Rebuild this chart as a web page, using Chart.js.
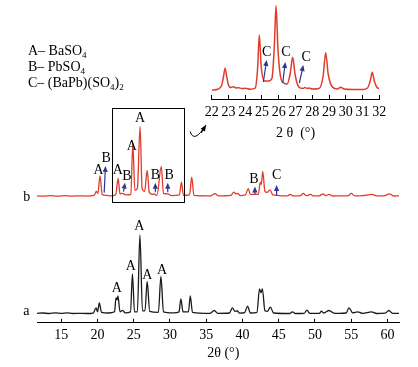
<!DOCTYPE html>
<html>
<head>
<meta charset="utf-8">
<script src="https://cdn.jsdelivr.net/npm/chart.js@4.4.1/dist/chart.umd.min.js"></script>
<style>
body { margin: 0; background: #fff; }
#wrap { position: relative; width: 418px; height: 367px; }
#main { position: absolute; left: 0; top: 0; }
#inset { position: absolute; left: 190px; top: 0; }
</style>
</head>
<body>
<div id="wrap">
<canvas id="main" width="418" height="367"></canvas>
<canvas id="inset" width="218" height="145"></canvas>
</div>
<script>
const FONT = '"Liberation Serif", "Times New Roman", serif';
const RED = '#e23b2a';
const BLUE = '#2a3795';

// pattern a (black), intensity above its own baseline
const angleA = [11.65, 12.5, 13.3, 14.2, 15.0, 15.8, 16.6, 17.5, 18.5, 19.4, 19.8, 20.0, 20.25, 20.55, 21.5,
  22.35, 22.55, 22.7, 22.82, 23.1, 23.5, 23.8, 24.55, 24.82, 25.1, 25.5, 25.85, 26.2, 26.55, 26.85, 27.2,
  28.4, 28.75, 29.1, 30.5, 31.25, 31.5, 31.8, 32.55, 32.8, 33.1, 35.5, 36.1, 36.6, 38.2, 38.6, 38.95, 39.3,
  39.6, 40.3, 40.7, 41.1, 42.0, 42.35, 42.55, 42.75, 43.1, 43.45, 43.85, 44.3, 46.5, 46.9, 47.3, 48.5, 48.9,
  49.3, 50.6, 50.9, 51.2, 51.95, 52.6, 53.3, 54.3, 54.7, 55.2, 55.9, 56.6, 57.8, 58.5, 59.7, 60.2, 60.7, 61.6];
const intA = [0.5, 0.8, 0.3, 0.9, 0.4, 0.9, 0.3, 0.5, 0.3, 0.8, 6, 2, 11, 1.5, 0.8,
  2, 16, 14, 18, 2, 3.5, 1, 2, 40, 2, 2, 79, 3, 3, 32.5, 2.5,
  1.5, 37.5, 2, 1, 2, 15, 2, 2, 18, 1.5, 0.5, 3.3, 0.5, 0.8, 6, 2.5, 2.8,
  0.7, 1.2, 7.6, 0.8, 1.5, 25, 21, 25, 3, 2.5, 6.6, 0.8, 0.3, 2, 0.3, 0.5, 3.6,
  0.4, 0.5, 2.6, 0.8, 3.3, 0.6, 0.4, 0.8, 6, 1, 2, 0.4, 2, 0.3, 0.6, 3.3, 0.5, 0.4];

// pattern b (red)
const angleB = [11.65, 12.6, 13.5, 14.5, 15.5, 16.5, 17.5, 18.5, 19.5, 19.85, 20.05, 20.35, 20.65, 21.2, 21.8,
  22.5, 22.85, 23.1, 23.35, 23.6, 24.0, 24.6, 24.87, 25.15, 25.5, 25.87, 26.15, 26.5, 26.85, 27.15, 27.6,
  27.8, 28.2, 28.8, 29.1, 29.7, 30.2, 31.3, 31.58, 31.85, 32.7, 33.0, 33.3, 35.6, 36.2, 36.7, 38.4, 38.8,
  39.1, 39.3, 39.7, 40.4, 40.8, 41.1, 41.8, 42.2, 42.45, 42.6, 42.8, 43.1, 43.4, 43.8, 44.2, 44.8, 45.5,
  46.2, 46.6, 47.0, 48.0, 48.4, 48.8, 49.4, 49.8, 50.6, 51.1, 51.5, 51.95, 52.5, 53.5, 54.6, 55.0, 55.5,
  56.5, 57.9, 58.5, 59.5, 60.3, 60.9, 61.6];
const intB = [0.5, 0.2, 0.8, 0.3, 0.7, 0.3, 0.6, 0.3, 1, 5, 3, 20.5, 2, 1, 0.5,
  1.5, 18, 2.5, 3, 2.5, 1.5, 2, 52.7, 6, 8, 70, 8, 5, 26, 4, 2,
  2.5, 1, 30, 3, 2.5, 0.8, 1.5, 14.3, 1, 1.5, 19.3, 1, 0.5, 2.7, 0.5, 1, 4.3,
  2.5, 3, 0.8, 1.5, 7.7, 2, 2, 2, 14, 12, 25, 5, 4, 6.5, 1.5, 1, 0.5,
  0.6, 2, 0.5, 0.8, 3, 0.7, 2, 0.5, 0.6, 2.5, 0.7, 2, 0.4, 0.6, 0.8, 3, 0.6,
  0.8, 2, 0.5, 0.6, 2.5, 0.4, 0.5];

// pattern b, 22-32 enlarged
const angleIn = [22.0, 22.4, 22.6, 22.7, 22.8, 22.9, 23.0, 23.15, 23.3, 23.45, 23.6, 23.8, 24.0, 24.3, 24.6,
  24.74, 24.84, 24.95, 25.15, 25.4, 25.6, 25.74, 25.84, 25.95, 26.1, 26.3, 26.5, 26.68, 26.83, 26.98, 27.2,
  27.45, 27.57, 27.7, 27.8, 28.0, 28.4, 28.65, 28.8, 28.95, 29.2, 29.5, 29.7, 29.9, 30.4, 31.0, 31.3, 31.47,
  31.58, 31.7, 31.9, 32.0];
const intIn = [0, 1, 5, 13, 21.7, 13, 5, 2.5, 3.3, 2, 2.3, 1.5, 1.7, 0.7, 2,
  22, 55, 24, 9, 9, 12, 45, 84.3, 42, 14, 7, 6, 16, 32.7, 15, 3,
  1.5, 2.5, 1.5, 2, 1, 1.5, 14, 37.3, 16, 3, 1, 2.7, 1, 0.5, 0.6, 2, 10,
  17.7, 9, 2, 1.7];

const mainTicks = [15, 20, 25, 30, 35, 40, 45, 50, 55, 60];
const insetTicks = [22, 23, 24, 25, 26, 27, 28, 29, 30, 31, 32];

const baseA = 9, baseB = 126.5, baseIn = 9;

// phase marks: [text, angle, height]
const labelsA = [['A', 22.67, 34.7], ['A', 24.6, 56.3], ['A', 25.78, 97], ['A', 26.88, 48], ['A', 28.9, 53]];
const labelsB = [['A', 20.13, 153], ['B', 21.2, 164.7], ['A', 22.81, 153], ['B', 24.05, 147], ['A', 24.74, 177],
  ['A', 25.88, 204.7], ['B', 27.98, 148], ['B', 29.87, 148], ['B', 41.58, 144], ['C', 44.71, 148]];
const arrowsB = [[20.92, 130.3, 21.1, 157], [23.58, 131.3, 23.81, 140.3], [27.98, 130.7, 27.98, 140.3],
  [29.69, 130.7, 29.69, 140.3], [41.72, 128.7, 41.72, 136.3], [44.71, 127.3, 44.71, 138]];
const labelsIn = [['C', 25.28, 47], ['C', 26.43, 47], ['C', 27.63, 42]];
const arrowsIn = [[25.08, 17, 25.28, 39], [26.24, 16, 26.39, 37], [27.23, 16, 27.47, 34]];
const boxX = [22, 32], boxY = [121, 215];

const legendLines = [
  [['A– BaSO', 0], ['4', 1]],
  [['B– PbSO', 0], ['4', 1]],
  [['C– (BaPb)(SO', 0], ['4', 1], [')', 0], ['2', 1]]
];

function pts(xs, ys, off) {
  return xs.map((v, i) => ({ x: v, y: ys[i] + off }));
}

function arrow(ctx, x1, y1, x2, y2, color) {
  const a = Math.atan2(y2 - y1, x2 - x1);
  ctx.strokeStyle = color; ctx.fillStyle = color; ctx.lineWidth = 1.2;
  ctx.beginPath(); ctx.moveTo(x1, y1); ctx.lineTo(x2 - 3 * Math.cos(a), y2 - 3 * Math.sin(a)); ctx.stroke();
  ctx.beginPath();
  ctx.moveTo(x2, y2);
  ctx.lineTo(x2 - 6 * Math.cos(a) + 2.6 * Math.sin(a), y2 - 6 * Math.sin(a) - 2.6 * Math.cos(a));
  ctx.lineTo(x2 - 6 * Math.cos(a) - 2.6 * Math.sin(a), y2 - 6 * Math.sin(a) + 2.6 * Math.cos(a));
  ctx.closePath(); ctx.fill();
}

function marks(ctx, sx, sy, labels, arrows) {
  arrows.forEach(a => arrow(ctx, sx.getPixelForValue(a[0]), sy.getPixelForValue(a[1]),
    sx.getPixelForValue(a[2]), sy.getPixelForValue(a[3]), BLUE));
  ctx.fillStyle = '#000';
  ctx.font = '14px ' + FONT;
  ctx.textAlign = 'center';
  ctx.textBaseline = 'middle';
  labels.forEach(l => ctx.fillText(l[0], sx.getPixelForValue(l[1]), sy.getPixelForValue(l[2])));
}

function drawRuns(ctx, x, y, runs) {
  runs.forEach(([t, sub]) => {
    ctx.font = (sub ? 9 : 14) + 'px ' + FONT;
    ctx.fillText(t, x, y + (sub ? 3 : 0));
    x += ctx.measureText(t).width;
  });
}

const mainDecor = {
  id: 'mainDecor',
  afterDraw(chart) {
    const ctx = chart.ctx;
    const sx = chart.scales.x, sy = chart.scales.y;
    const px = v => sx.getPixelForValue(v), py = v => sy.getPixelForValue(v);
    ctx.save();
    // frame round the enlarged range
    ctx.strokeStyle = '#000'; ctx.lineWidth = 1;
    ctx.strokeRect(Math.round(px(boxX[0])) + 0.5, Math.round(py(boxY[1])) + 0.5,
      Math.round(px(boxX[1]) - px(boxX[0])), Math.round(py(boxY[0]) - py(boxY[1])));
    // bent arrow towards the inset
    const x0 = px(32.78), y0 = py(191.5), cx = px(33.32), cy = py(179), x1 = px(34.97), y1 = py(198);
    ctx.beginPath(); ctx.moveTo(x0, y0); ctx.quadraticCurveTo(cx, cy, x1, y1);
    ctx.lineWidth = 1; ctx.stroke();
    arrow(ctx, cx + (x1 - cx) * 0.6, cy + (y1 - cy) * 0.6, x1, y1, '#000');

    marks(ctx, sx, sy, labelsA, []);
    marks(ctx, sx, sy, labelsB, arrowsB);

    // curve names
    ctx.textAlign = 'left'; ctx.textBaseline = 'alphabetic';
    ctx.font = '14px ' + FONT;
    ctx.fillText('a', px(9.75), py(8));
    ctx.fillText('b', px(9.75), py(122.3));

    legendLines.forEach((runs, i) => drawRuns(ctx, 28, 55 + i * 16, runs));
    ctx.restore();
  }
};

const insetDecor = {
  id: 'insetDecor',
  afterDraw(chart) {
    const ctx = chart.ctx;
    ctx.save();
    marks(ctx, chart.scales.x, chart.scales.y, labelsIn, arrowsIn);
    ctx.restore();
  }
};

function xAxis(min, max, tickList, title, padding, titlePad) {
  return {
    type: 'linear', min: min, max: max,
    afterBuildTicks: s => { s.ticks = tickList.map(v => ({ value: v })); },
    grid: { drawOnChartArea: false, drawTicks: true, tickLength: -4, color: '#000', tickWidth: 1 },
    border: { display: true, color: '#000', width: 1 },
    ticks: { color: '#000', font: { family: FONT, size: 14 }, padding: padding, maxRotation: 0, autoSkip: false },
    title: { display: true, text: title, color: '#000', font: { family: FONT, size: 14 }, padding: titlePad }
  };
}

const lineStyle = { pointRadius: 0, fill: false, borderWidth: 1.3, cubicInterpolationMode: 'monotone' };

new Chart(document.getElementById('main'), {
  type: 'line',
  data: {
    datasets: [
      Object.assign({ label: 'a', data: pts(angleA, intA, baseA), borderColor: '#1a1a1a' }, lineStyle),
      Object.assign({ label: 'b', data: pts(angleB, intB, baseB), borderColor: RED }, lineStyle)
    ]
  },
  options: {
    responsive: false,
    animation: false,
    layout: { padding: { left: 37, right: 19, top: 100, bottom: 5.6 } },
    scales: {
      x: xAxis(11.65, 61.6, mainTicks, '   2θ (°)', 8, { top: -7, bottom: 0 }),
      y: { display: false, min: 0, max: 223 }
    },
    plugins: { legend: { display: false }, tooltip: { enabled: false } }
  },
  plugins: [mainDecor]
});

new Chart(document.getElementById('inset'), {
  type: 'line',
  data: {
    datasets: [
      Object.assign({ label: 'b 22-32', data: pts(angleIn, intIn, baseIn), borderColor: RED }, lineStyle, { borderWidth: 1.5 })
    ]
  },
  options: {
    responsive: false,
    animation: false,
    layout: { padding: { left: 21.7, right: 28.7, top: 0, bottom: 3.6 } },
    scales: {
      x: xAxis(22, 32, insetTicks, '2 θ  (°)', 9.4, { top: -6, bottom: 0 }),
      y: { display: false, min: 0, max: 99 }
    },
    plugins: { legend: { display: false }, tooltip: { enabled: false } }
  },
  plugins: [insetDecor]
});
</script>
</body>
</html>
